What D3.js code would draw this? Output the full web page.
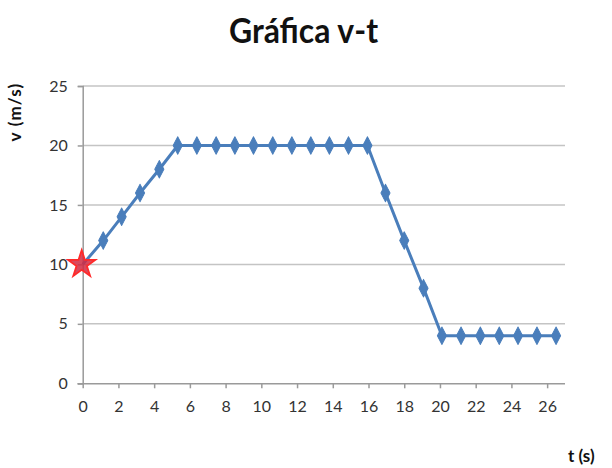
<!DOCTYPE html>
<html>
<head>
<meta charset="utf-8">
<script src="https://cdn.jsdelivr.net/npm/d3@7"></script>
<style>
  html, body { margin: 0; padding: 0; background: #fff; }
  svg { display: block; font-family: Lato, "Open Sans", sans-serif; }
</style>
</head>
<body>
<svg id="chart" width="612" height="468"></svg>
<script>
// time (s) and velocity (m/s) of each plotted sample
const tValues = [0, 1.15, 2.18, 3.21, 4.29, 5.32, 6.39, 7.47, 8.52, 9.56, 10.64, 11.71, 12.77,
                 13.81, 14.88, 15.94, 16.95, 18.0, 19.08, 20.11, 21.18, 22.26, 23.32, 24.37, 25.43, 26.5];
const vValues = [10, 12, 14, 16, 18, 20, 20, 20, 20, 20, 20, 20, 20,
                 20, 20, 20, 16, 12, 8, 4, 4, 4, 4, 4, 4, 4];
// starting point highlighted with a star
const startPoint = { t: 0, v: 10 };
const xTicks = [0, 2, 4, 6, 8, 10, 12, 14, 16, 18, 20, 22, 24, 26];
const yTicks = [0, 5, 10, 15, 20, 25];

const svg = d3.select("#chart");
const x = d3.scaleLinear().domain([0, 27]).range([82.7, 565]);
const y = d3.scaleLinear().domain([0, 25]).range([383.3, 86]);

const gridColor = "#c4c4c4";
const axisColor = "#9a9a9a";
const textColor = "#333";
const blue = "#4a7ebb";

// horizontal gridlines
svg.append("g")
  .selectAll("line")
  .data(yTicks.filter(d => d > 0))
  .join("line")
  .attr("x1", x(0)).attr("x2", x(27))
  .attr("y1", d => y(d)).attr("y2", d => y(d))
  .attr("stroke", gridColor).attr("stroke-width", 1.5);

// y axis
const yAxis = svg.append("g")
  .attr("transform", `translate(${x(0)},0)`)
  .call(d3.axisLeft(y).tickValues(yTicks).tickSize(5).tickPadding(10).tickFormat(d3.format("d")));
yAxis.select(".domain").attr("stroke", axisColor).attr("stroke-width", 1.5);
yAxis.selectAll(".tick line").attr("stroke", axisColor).attr("stroke-width", 1.5);
yAxis.selectAll(".tick text")
  .attr("fill", textColor).attr("font-size", 16).attr("font-family", "Lato, sans-serif");

// x axis
const xAxis = svg.append("g")
  .attr("transform", `translate(0,${y(0)})`)
  .call(d3.axisBottom(x).tickValues(xTicks).tickSize(5).tickPadding(12).tickSizeOuter(0).tickFormat(d3.format("d")));
xAxis.select(".domain").attr("stroke", axisColor).attr("stroke-width", 1.5)
  .attr("d", `M${x(0) - 5},0.5H${x(27)}`);
xAxis.selectAll(".tick line").attr("stroke", axisColor).attr("stroke-width", 1.5);
xAxis.selectAll(".tick text")
  .attr("fill", textColor).attr("font-size", 16).attr("font-family", "Lato, sans-serif");

// velocity series
const pts = tValues.map((t, i) => ({ t, v: vValues[i] }));
svg.append("path")
  .datum(pts)
  .attr("fill", "none")
  .attr("stroke", blue)
  .attr("stroke-width", 3)
  .attr("stroke-linejoin", "round")
  .attr("d", d3.line().x(d => x(d.t)).y(d => y(d.v)));

svg.append("g")
  .selectAll("path")
  .data(pts.slice(1))
  .join("path")
  .attr("transform", d => `translate(${x(d.t)},${y(d.v)}) scale(0.95,1.05)`)
  .attr("d", d3.symbol().type(d3.symbolDiamond).size(80))
  .attr("fill", blue)
  .attr("stroke", blue)
  .attr("stroke-width", 1)
  .attr("stroke-linejoin", "round");

// start marker
svg.append("path")
  .attr("transform", `translate(${x(startPoint.t) - 1},${y(startPoint.v)})`)
  .attr("d", d3.symbol().type(d3.symbolStar).size(230))
  .attr("fill", "#d02a42")
  .attr("fill-opacity", 0.85)
  .attr("stroke", "#ff2a2a")
  .attr("stroke-width", 1.8);

// title
svg.append("text")
  .attr("transform", "translate(303.5,42.7) scale(0.94,1)")
  .attr("text-anchor", "middle")
  .attr("font-family", "Lato, sans-serif")
  .attr("font-weight", "bold")
  .attr("font-size", 34)
  .attr("fill", "#111")
  .text("Gráfica v-t");

// axis titles
svg.append("text")
  .attr("transform", "translate(21,112) rotate(-90)")
  .attr("text-anchor", "middle")
  .attr("font-family", "Lato, sans-serif")
  .attr("font-weight", "bold")
  .attr("font-size", 17)
  .attr("letter-spacing", 1.2)
  .attr("fill", "#111")
  .text("v (m/s)");

svg.append("text")
  .attr("x", 568).attr("y", 462)
  .attr("font-family", "Lato, sans-serif")
  .attr("font-weight", "bold")
  .attr("font-size", 17)
  .attr("fill", "#111")
  .text("t (s)");
</script>
</body>
</html>
